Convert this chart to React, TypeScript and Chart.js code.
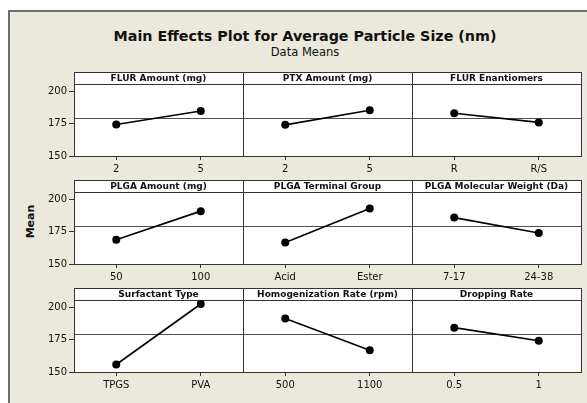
import React, { useEffect, useRef } from "react";
import { Chart, registerables } from "chart.js";

Chart.register(...registerables);

// ---------- data ----------
const TITLE = "Main Effects Plot for Average Particle Size (nm)";
const SUBTITLE = "Data Means";
const Y_LABEL = "Mean";

const FACTORS = [
  "FLUR Amount (mg)",
  "PTX Amount (mg)",
  "FLUR Enantiomers",
  "PLGA Amount (mg)",
  "PLGA Terminal Group",
  "PLGA Molecular Weight (Da)",
  "Surfactant Type",
  "Homogenization Rate (rpm)",
  "Dropping Rate",
];

const LEVELS = [
  ["2", "5"],
  ["2", "5"],
  ["R", "R/S"],
  ["50", "100"],
  ["Acid", "Ester"],
  ["7-17", "24-38"],
  ["TPGS", "PVA"],
  ["500", "1100"],
  ["0.5", "1"],
];

const MEANS = [
  [174.4, 184.8],
  [174.1, 185.4],
  [183.1, 176.0],
  [168.8, 190.9],
  [166.6, 192.9],
  [185.9, 174.0],
  [155.8, 202.6],
  [191.4, 166.8],
  [184.3, 174.2],
];

const GRAND_MEAN = 179.5;
const Y_TICKS = [150, 175, 200];
const Y_MIN = 150;
const Y_MAX = 205.7;

// ---------- layout ----------
const COL_X = [74, 243, 412];
const ROW_Y = [72, 180, 288];
const PANEL_W = 169;
const HEADER_H = 12;
const PLOT_H = 72;
const AXIS_W = 40;
const X_AXIS_H = 24;
const PAD_R = 4;
const FONT = "DejaVu Sans";
const BEIGE = "#ebe8dc";

function Panel({ idx }: { idx: number }) {
  const ref = useRef<HTMLCanvasElement>(null);
  const col = idx % 3;
  const row = Math.floor(idx / 3);
  const w = AXIS_W + PANEL_W + PAD_R;
  const h = HEADER_H + PLOT_H + X_AXIS_H;

  useEffect(() => {
    if (!ref.current) return;
    const decor = {
      id: "panelDecor",
      beforeDraw(chart: any) {
        const { ctx, chartArea: a } = chart;
        ctx.save();
        ctx.fillStyle = "#ffffff";
        ctx.fillRect(a.left, a.top - HEADER_H, a.right - a.left, a.bottom - a.top + HEADER_H);
        ctx.restore();
      },
      beforeDatasetsDraw(chart: any) {
        const { ctx, chartArea: a, scales } = chart;
        ctx.save();
        const y = Math.round(scales.y.getPixelForValue(GRAND_MEAN)) + 0.5;
        ctx.strokeStyle = "#505050";
        ctx.lineWidth = 1;
        ctx.beginPath();
        ctx.moveTo(a.left, y);
        ctx.lineTo(a.right, y);
        ctx.stroke();
        ctx.strokeStyle = "#333333";
        ctx.strokeRect(a.left + 0.5, a.top - HEADER_H + 0.5, a.right - a.left, HEADER_H);
        ctx.strokeRect(a.left + 0.5, a.top + 0.5, a.right - a.left, a.bottom - a.top);
        ctx.fillStyle = "#111111";
        ctx.font = `bold 9px "${FONT}"`;
        ctx.textAlign = "center";
        ctx.textBaseline = "middle";
        ctx.fillText(FACTORS[idx], (a.left + a.right) / 2, a.top - HEADER_H / 2 + 1);
        ctx.restore();
      },
    };

    const chart = new Chart(ref.current, {
      type: "line",
      data: {
        labels: LEVELS[idx],
        datasets: [
          {
            data: MEANS[idx],
            borderColor: "#000000",
            backgroundColor: "#000000",
            borderWidth: 1.6,
            pointRadius: 4,
            pointHoverRadius: 4,
            pointBackgroundColor: "#000000",
            pointBorderColor: "#000000",
            pointBorderWidth: 0,
            tension: 0,
          },
        ],
      },
      options: {
        responsive: false,
        animation: false,
        events: [],
        layout: { padding: { top: HEADER_H, right: PAD_R, left: 0, bottom: 0 } },
        plugins: { legend: { display: false }, tooltip: { enabled: false } },
        scales: {
          x: {
            type: "category",
            offset: true,
            grid: {
              display: true,
              drawOnChartArea: false,
              drawTicks: true,
              tickLength: 4,
              color: "#333333",
              offset: false,
            },
            border: { display: false },
            ticks: {
              font: { family: FONT, size: 10 },
              color: "#111111",
              padding: 3,
              maxRotation: 0,
              autoSkip: false,
            },
            afterFit: (s: any) => {
              s.height = X_AXIS_H;
            },
          },
          y: {
            type: "linear",
            min: Y_MIN,
            max: Y_MAX,
            afterBuildTicks: (s: any) => {
              s.ticks = Y_TICKS.map((v) => ({ value: v }));
            },
            grid: {
              display: col === 0,
              drawOnChartArea: false,
              drawTicks: true,
              tickLength: 5,
              color: "#333333",
            },
            border: { display: false },
            ticks: {
              display: col === 0,
              font: { family: FONT, size: 10 },
              color: "#111111",
              padding: 2,
            },
            afterFit: (s: any) => {
              s.width = AXIS_W;
            },
          },
        },
      } as any,
      plugins: [decor],
    });
    return () => chart.destroy();
  }, [idx]);

  return (
    <canvas
      ref={ref}
      width={w}
      height={h}
      style={{
        position: "absolute",
        left: COL_X[col] - AXIS_W,
        top: ROW_Y[row],
        width: w,
        height: h,
      }}
    />
  );
}

export default function App() {
  return (
    <div
      style={{
        position: "absolute",
        left: 0,
        top: 0,
        width: 587,
        height: 403,
        overflow: "hidden",
        background: "#ffffff",
        fontFamily: FONT,
        color: "#111111",
      }}
    >
      <div
        style={{
          position: "absolute",
          left: 8,
          top: 10,
          width: 620,
          height: 420,
          background: BEIGE,
          borderLeft: "2px solid #6e6e6e",
          borderTop: "2px solid #6e6e6e",
        }}
      />
      <div
        style={{
          position: "absolute",
          left: 0,
          width: 610,
          top: 28.6,
          textAlign: "center",
          fontWeight: "bold",
          fontSize: 14.3,
          lineHeight: "14.3px",
          whiteSpace: "nowrap",
        }}
      >
        {TITLE}
      </div>
      <div
        style={{
          position: "absolute",
          left: 0,
          width: 610,
          top: 47,
          textAlign: "center",
          fontSize: 11.5,
          lineHeight: "11.5px",
          whiteSpace: "nowrap",
        }}
      >
        {SUBTITLE}
      </div>
      <div
        style={{
          position: "absolute",
          left: 0,
          width: 60,
          top: 216,
          textAlign: "center",
          fontWeight: "bold",
          fontSize: 11,
          lineHeight: "11px",
          transform: "rotate(-90deg)",
        }}
      >
        {Y_LABEL}
      </div>
      {FACTORS.map((_, i) => (
        <Panel key={i} idx={i} />
      ))}
    </div>
  );
}
